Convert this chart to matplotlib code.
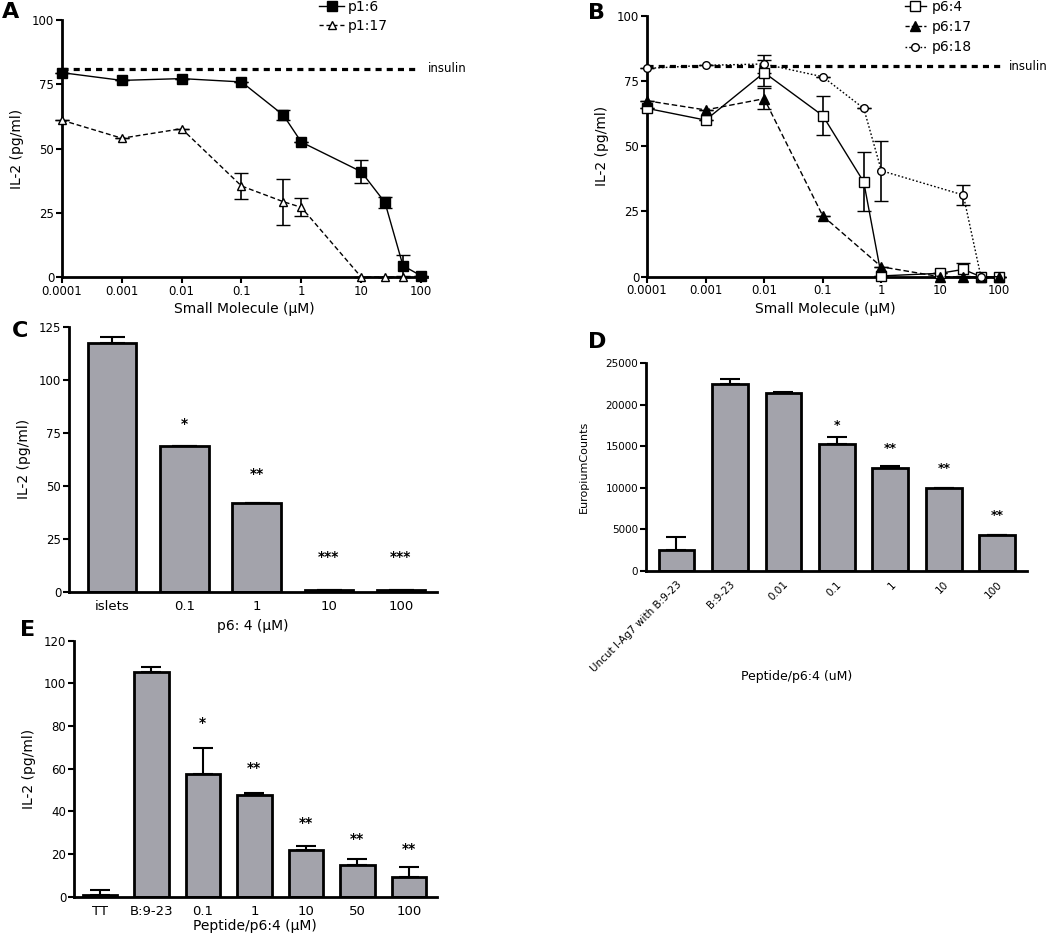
import numpy as np
import matplotlib
matplotlib.use('Agg')
import matplotlib.pyplot as plt
from matplotlib.lines import Line2D

plt.rcParams['font.family'] = ['DejaVu Sans']

# --- datos ---
dosis_ab = [0.0001, 0.001, 0.01, 0.1, 0.5, 1, 10, 25, 50, 100]
ticks_log = [0.0001, 0.001, 0.01, 0.1, 1, 10, 100]
ticks_log_lbl = ['0.0001', '0.001', '0.01', '0.1', '1', '10', '100']
insulina = 80.8

# Panel A
p1_6 = [79.5, 76.5, 77.2, 75.9, 63.0, 52.5, 41.0, 29.0, 4.4, 0.5]
p1_6_err = [0, 0, 0, 0, 2.0, 0, 4.5, 2.0, 4.0, 0]
x_p1_17 = [0.0001, 0.001, 0.01, 0.1, 0.5, 1, 10, 25, 50]
p1_17 = [61.0, 54.0, 57.7, 35.4, 29.3, 27.1, 0, 0, 0]
p1_17_err = [0, 0, 0, 5.0, 9.0, 3.5, 0, 0, 0]

# Panel B
p6_4 = [64.5, 60.0, 78.2, 61.7, 36.3, 0.3, 1.3, 2.8, 0, 0]
p6_4_err = [0, 0, 5.0, 7.5, 11.3, 0, 0, 2.5, 0, 0]
x_p6_17 = [0.0001, 0.001, 0.01, 0.1, 1, 10, 25, 50, 100]
p6_17 = [67.4, 63.9, 68.2, 23.3, 3.8, 0, 0, 0, 0]
p6_17_err = [0, 0, 4.0, 0, 0, 0, 0, 0, 0]
x_p6_18 = [0.0001, 0.001, 0.01, 0.1, 0.5, 1, 25, 50]
p6_18 = [79.8, 81.0, 81.5, 76.6, 64.5, 40.6, 31.3, 0]
p6_18_err = [0, 0, 3.5, 0, 0, 11.5, 4.0, 0]

# Panel C
c_cats = ['islets', '0.1', '1', '10', '100']
c_vals = [117.3, 68.7, 42.0, 0.6, 0.6]
c_err = [3.0, 0, 0, 0, 0]
c_sig = ['', '*', '**', '***', '***']
c_sig_y = [0, 79, 55.5, 16.4, 16.4]

# Panel D
d_cats = ['Uncut I-Ag7 with B:9-23', 'B:9-23', '0.01', '0.1', '1', '10', '100']
d_vals = [2530, 22470, 21390, 15250, 12440, 9950, 4300]
d_err = [1530, 600, 150, 850, 150, 0, 0]
d_sig = ['', '', '', '*', '**', '**', '**']
d_sig_y = [0, 0, 0, 17570, 14770, 12280, 6660]

# Panel E
e_cats = ['TT', 'B:9-23', '0.1', '1', '10', '50', '100']
e_vals = [1.0, 105.2, 57.5, 47.7, 21.9, 14.9, 9.4]
e_err = [2.0, 2.3, 12.0, 1.0, 2.0, 2.6, 4.7]
e_sig = ['', '', '*', '**', '**', '**', '**']
e_sig_y = [0, 0, 81.6, 60.5, 34.7, 26.9, 22.2]

W, H = 1050, 940
fig = plt.figure(figsize=(W / 100, H / 100), dpi=100)
gris = '#a3a3ab'


def ejes_px(l, r, t, b):
    return fig.add_axes([l / W, 1 - b / H, (r - l) / W, (b - t) / H])


def estilo(ax, fs=8.5):
    for s in ['top', 'right']:
        ax.spines[s].set_visible(False)
    for s in ['left', 'bottom']:
        ax.spines[s].set_linewidth(2)
    ax.tick_params(direction='out', length=4, width=1.5, labelsize=fs, pad=1.5)


def panel_log(ax, xmax, fin_insulina):
    ax.set_xscale('log')
    ax.set_xlim(0.0001, xmax)
    ax.set_ylim(0, 100)
    ax.set_xticks(ticks_log)
    ax.set_xticklabels(ticks_log_lbl)
    ax.minorticks_off()
    ax.set_yticks([0, 25, 50, 75, 100])
    ax.hlines(insulina, 0.0001, fin_insulina, color='black', lw=2.3, ls=(0, (1.9, 1.6)), zorder=1)
    ax.set_xlabel('Small Molecule (µM)', fontsize=10, labelpad=3)
    ax.set_ylabel('IL-2 (pg/ml)', fontsize=10, labelpad=6)
    estilo(ax)


def serie(ax, x, y, e, ls, mk, fc, ms):
    ax.errorbar(x, y, yerr=e, color='black', lw=1, ls=ls, marker=mk, mfc=fc, mec='black',
                mew=1, ms=ms, capsize=5, elinewidth=1.2, capthick=1.2, clip_on=False, zorder=3)


# === A ===
axA = ejes_px(62, 427, 20, 277)
panel_log(axA, 126, 80)
serie(axA, dosis_ab, p1_6, p1_6_err, '-', 's', 'black', 6.5)
serie(axA, x_p1_17, p1_17, p1_17_err, (0, (3.5, 2)), '^', 'white', 6)
fig.text(428 / W, 1 - 69 / H, 'insulin', fontsize=8.5, va='center')
hA = [Line2D([], [], color='black', lw=1, marker='s', ms=6.5),
      Line2D([], [], color='black', lw=1, ls=(0, (3, 2)), marker='^', mfc='white', ms=6)]
fig.legend(hA, ['p1:6', 'p1:17'], loc='upper left', bbox_to_anchor=(319 / W, 1 - 0 / H),
           frameon=False, fontsize=10, handlelength=1.8, handletextpad=0.3, labelspacing=0.35,
           borderpad=0, borderaxespad=0, numpoints=1)

# === B ===
axB = ejes_px(647, 1003, 15.7, 276.7)
panel_log(axB, 119, 105)
serie(axB, dosis_ab, p6_4, p6_4_err, '-', 's', 'white', 6.5)
serie(axB, x_p6_17, p6_17, p6_17_err, (0, (4, 2)), '^', 'black', 6.5)
serie(axB, x_p6_18, p6_18, p6_18_err, (0, (1.2, 1.5)), 'o', 'white', 5.5)
fig.text(1009 / W, 1 - 66.7 / H, 'insulin', fontsize=8.5, va='center')
hB = [Line2D([], [], color='black', lw=1, marker='s', mfc='white', ms=6.5),
      Line2D([], [], color='black', lw=1, ls=(0, (3, 1.5)), marker='^', ms=6.5),
      Line2D([], [], color='black', lw=1, ls=(0, (1.2, 1.5)), marker='o', mfc='white', ms=5.5)]
fig.legend(hB, ['p6:4', 'p6:17', 'p6:18'], loc='upper left', bbox_to_anchor=(905 / W, 1 - 0 / H),
           frameon=False, fontsize=10, handlelength=1.5, handletextpad=0.4, labelspacing=0.45,
           borderpad=0, borderaxespad=0, numpoints=1)


def barras(ax, cats, vals, err, sig, sig_y, cap, ancho=0.67, fs_sig=10):
    x = np.arange(len(cats))
    ax.bar(x, vals, width=ancho, color=gris, edgecolor='black', linewidth=2, zorder=2)
    ax.errorbar(x, vals, yerr=[np.zeros(len(err)), err], fmt='none', ecolor='black',
                elinewidth=1.5, capsize=cap, capthick=1.5, zorder=1)
    for xi, s, yy in zip(x, sig, sig_y):
        if s:
            ax.text(xi, yy, s, ha='center', va='center', fontsize=fs_sig, fontweight='bold')
    ax.set_xticks(x)
    return x


# === C ===
axC = ejes_px(69, 437, 326.7, 591.7)
barras(axC, c_cats, c_vals, c_err, c_sig, c_sig_y, cap=9)
axC.set_xlim(-0.6, 4.5)
axC.set_ylim(0, 125)
axC.set_yticks([0, 25, 50, 75, 100, 125])
axC.set_xticklabels(c_cats)
estilo(axC)
axC.tick_params(axis='x', length=0, labelsize=9.5, pad=6)
axC.set_xlabel('p6: 4 (µM)', fontsize=10, labelpad=4)
axC.set_ylabel('IL-2 (pg/ml)', fontsize=10, labelpad=6)

# === D ===
axD = ejes_px(646, 1026.7, 363.3, 571)
barras(axD, d_cats, d_vals, d_err, d_sig, d_sig_y, cap=7, fs_sig=9)
axD.set_xlim(-0.57, 6.55)
axD.set_ylim(0, 25000)
axD.set_yticks(range(0, 25001, 5000))
axD.set_xticklabels(d_cats, rotation=45, ha='right', rotation_mode='anchor', fontsize=7)
estilo(axD, fs=7.5)
axD.tick_params(axis='x', length=0, pad=6)
axD.set_ylabel('EuropiumCounts', fontsize=8)
axD.yaxis.set_label_coords(-0.15, 0.5)
axD.set_xlabel('Peptide/p6:4 (uM)', fontsize=9)
axD.xaxis.set_label_coords(0.396, -0.475)

# === E ===
axE = ejes_px(74, 436.7, 640.7, 896.7)
barras(axE, e_cats, e_vals, e_err, e_sig, e_sig_y, cap=7)
axE.set_xlim(-0.5, 6.54)
axE.set_ylim(0, 120)
axE.set_yticks(range(0, 121, 20))
axE.set_xticklabels(e_cats)
estilo(axE)
axE.tick_params(axis='x', length=0, labelsize=9.5, pad=6)
axE.set_xlabel('Peptide/p6:4 (µM)', fontsize=10, labelpad=1)
axE.set_ylabel('IL-2 (pg/ml)', fontsize=10, labelpad=6)

# letras de panel
for letra, (px, py) in zip('ABCDE', [(2, 12), (588, 13), (12, 331), (588, 342), (20, 630)]):
    fig.text(px / W, 1 - py / H, letra, fontsize=16, fontweight='bold', va='center', ha='left')

fig.savefig('out.png', dpi=100)
